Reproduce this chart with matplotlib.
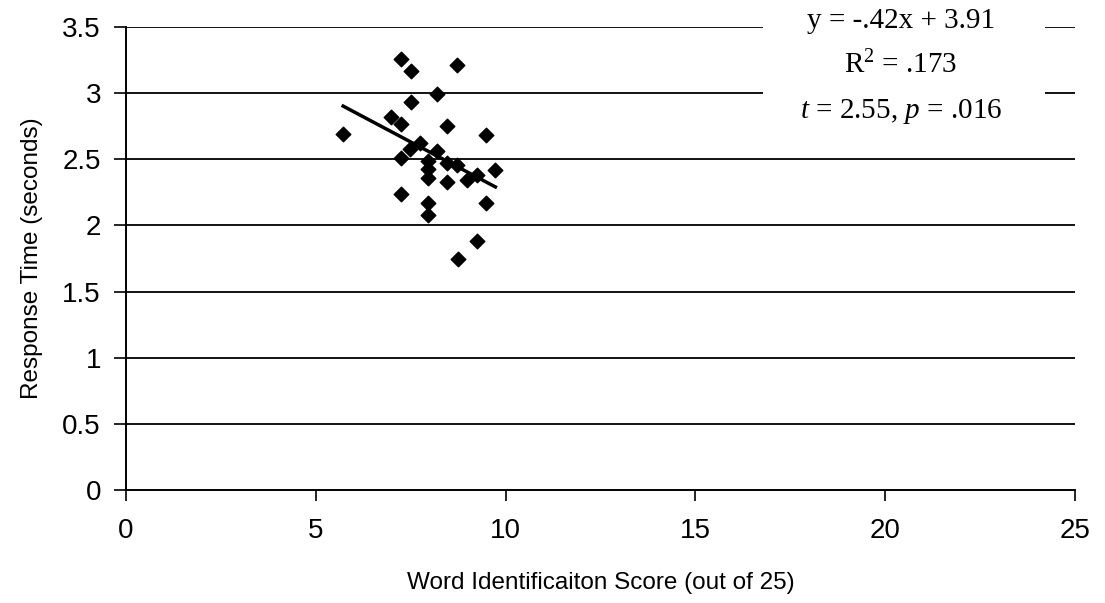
import numpy as np
import matplotlib.pyplot as plt

# word identification score vs response time
score = [7.24, 7.50, 8.72, 8.20, 7.50, 6.98, 7.24, 8.46, 5.72, 9.48,
         7.75, 7.48, 8.20, 7.25, 7.96, 7.96, 7.96, 8.45, 8.73, 9.73,
         9.24, 8.45, 8.98, 7.25, 9.48, 7.96, 7.96, 9.24, 8.74]
rt = [3.255, 3.17, 3.21, 2.99, 2.93, 2.82, 2.77, 2.75, 2.69, 2.68,
      2.62, 2.58, 2.56, 2.51, 2.49, 2.43, 2.36, 2.47, 2.46, 2.42,
      2.38, 2.33, 2.34, 2.24, 2.17, 2.17, 2.08, 1.88, 1.75]

x_ticks = [0, 5, 10, 15, 20, 25]
y_ticks = [0, 0.5, 1, 1.5, 2, 2.5, 3, 3.5]
y_labels = ['0', '0.5', '1', '1.5', '2', '2.5', '3', '3.5']

stats_text = ['y = -.42x + 3.91', r'R$^2$ = .173', r'$t$ = 2.55, $p$ = .016']

plt.rcParams['font.family'] = 'Liberation Sans'
plt.rcParams['mathtext.fontset'] = 'custom'
plt.rcParams['mathtext.rm'] = 'Liberation Serif'
plt.rcParams['mathtext.it'] = 'Liberation Serif:italic'

fig = plt.figure(figsize=(11.05, 6.03), dpi=100)
ax = fig.add_axes([0.114, 0.1874, 0.859, 0.7678])

ax.set_xlim(0, 25)
ax.set_ylim(0, 3.5)

for yv in y_ticks[1:]:
    ax.axhline(yv, color='black', lw=1.3, zorder=1)

ax.scatter(score, rt, marker='D', s=55, color='black', zorder=3, clip_on=False)

# linear trendline over the data range
sx = np.array(score)
m, b = np.polyfit(sx, np.array(rt), 1)
xx = np.array([sx.min(), sx.max()])
ax.plot(xx, m * xx + b, color='black', lw=2.5, zorder=4)

for s in ['top', 'right']:
    ax.spines[s].set_visible(False)
ax.spines['left'].set_linewidth(1.4)
ax.spines['bottom'].set_linewidth(1.4)

ax.set_xticks(x_ticks)
ax.set_yticks(y_ticks)
ax.set_yticklabels(y_labels)
ax.tick_params(axis='x', direction='out', length=8, width=1.2, pad=12, labelsize=20)
ax.tick_params(axis='y', direction='out', length=9, width=1.2, pad=9, labelsize=20)

ax.set_xlabel('Word Identificaiton Score (out of 25)', fontsize=17.5, labelpad=20)
ax.set_ylabel('Response Time (seconds)', fontsize=17.5, labelpad=14)

# white box with regression statistics
fig.patches.append(plt.Rectangle((763 / 1105, 1 - 124 / 603), 282 / 1105, 124 / 603,
                                 transform=fig.transFigure, facecolor='white',
                                 edgecolor='none', zorder=5))
for t, base in zip(stats_text, [28, 73, 118]):
    fig.text(901 / 1105, 1 - base / 603, t, ha='center', va='baseline',
             fontsize=21, family='Liberation Serif', zorder=6)

fig.savefig('out.png', dpi=100)
